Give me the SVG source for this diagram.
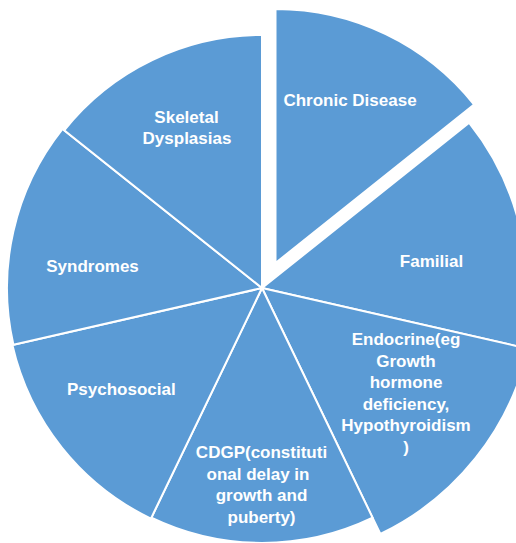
<svg xmlns="http://www.w3.org/2000/svg" width="516" height="543" viewBox="0 0 516 543">
<style>
.slice{fill:#5B9BD5;stroke:#FFFFFF;stroke-width:2;stroke-linejoin:miter}
.lbl{font-family:"Liberation Sans",Arial,sans-serif;font-weight:bold;font-size:17px;fill:#FFFFFF;text-anchor:middle}
</style>
<rect x="0" y="0" width="516" height="543" fill="#FFFFFF"/>
<g id="chronic-disease">
<path class="slice" d="M275.5,263 L275.5,9 A254,254 0 0 1 474.1,104.6 Z"/>
<text class="lbl" x="350" y="106">Chronic Disease</text>
</g>
<g id="familial">
<path class="slice" d="M262,288 L469.2,122.8 A265,265 0 0 1 520.4,347 Z"/>
<text class="lbl" x="431.5" y="267">Familial</text>
</g>
<g id="endocrine">
<path class="slice" d="M262,288 L528.2,348.7 A273,273 0 0 1 380.4,534 Z"/>
<text class="lbl" x="406" y="345">Endocrine(eg</text>
<text class="lbl" x="406" y="366.5">Growth</text>
<text class="lbl" x="406" y="388">hormone</text>
<text class="lbl" x="406" y="409.5">deficiency,</text>
<text class="lbl" x="406" y="431">Hypothyroidism</text>
<text class="lbl" x="406" y="452.5">)</text>
</g>
<g id="cdgp">
<path class="slice" d="M262,288 L372.6,517.7 A255,255 0 0 1 151.4,517.7 Z"/>
<text class="lbl" x="261.5" y="458.3">CDGP(constituti</text>
<text class="lbl" x="258" y="479.8">onal delay in</text>
<text class="lbl" x="261.5" y="501.3">growth and</text>
<text class="lbl" x="261.5" y="522.5">puberty)</text>
</g>
<g id="psychosocial">
<path class="slice" d="M262,288 L150.9,518.6 A256,256 0 0 1 12.4,345 Z"/>
<text class="lbl" x="121.3" y="395">Psychosocial</text>
</g>
<g id="syndromes">
<path class="slice" d="M262,288 L13.4,344.7 A255,255 0 0 1 62.6,129 Z"/>
<text class="lbl" x="92.5" y="271.5">Syndromes</text>
</g>
<g id="skeletal-dysplasias">
<path class="slice" d="M262,288 L64.2,130.3 A253,253 0 0 1 262,35 Z"/>
<text class="lbl" x="186.5" y="122.5">Skeletal</text>
<text class="lbl" x="187" y="144">Dysplasias</text>
</g>
</svg>
